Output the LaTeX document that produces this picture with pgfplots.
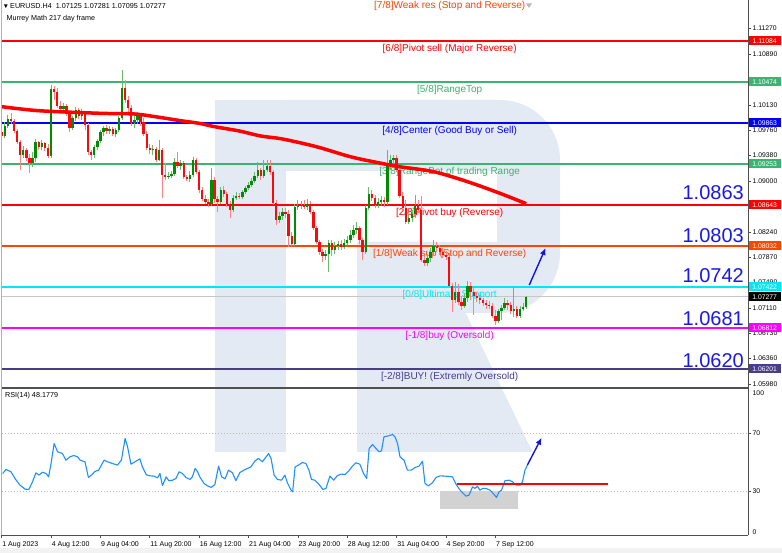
\documentclass[border=0pt]{standalone}
\usepackage{fontspec}
\setmainfont{Liberation Sans}
\usepackage{pgfplots}
\pgfplotsset{compat=1.18}
\usepackage{pgfplotstable}
\usetikzlibrary{arrows.meta}

\definecolor{wm}{RGB}{228,234,243}
\definecolor{axgray}{RGB}{80,80,80}
\definecolor{mmgreen}{RGB}{60,179,113}
\definecolor{mmorange}{RGB}{255,69,0}
\definecolor{mmcyan}{RGB}{0,232,245}
\definecolor{mmmagenta}{RGB}{255,0,255}
\definecolor{mmslate}{RGB}{72,61,139}
\definecolor{bigblue}{RGB}{25,25,235}
\definecolor{upbody}{RGB}{0,140,0}
\definecolor{upwick}{RGB}{110,185,110}
\definecolor{dnbody}{RGB}{250,10,10}
\definecolor{dnwick}{RGB}{255,130,130}
\definecolor{rsiblue}{RGB}{30,144,255}
\definecolor{arrowblue}{RGB}{20,20,225}

\newcommand\axfont{\fontsize{6.8}{8}\selectfont}
\newcommand\hdfont{\fontsize{7.2}{8}\selectfont}
\newcommand\lvfont{\fontsize{10}{12}\selectfont}
\newcommand\bigfont{\fontsize{20}{22}\selectfont}

% EURUSD H4 candles: bar index, open, high, low, close
\pgfplotstableread{
i o h l c
0 1.09729 1.09803 1.09610 1.09669
1 1.09669 1.09878 1.09640 1.09818
2 1.09818 1.09982 1.09789 1.09922
3 1.09922 1.10012 1.09848 1.09893
4 1.09893 1.09922 1.09714 1.09744
5 1.09744 1.09774 1.09550 1.09580
6 1.09580 1.09610 1.09163 1.09387
7 1.09387 1.09521 1.09342 1.09461
8 1.09461 1.09491 1.09297 1.09342
9 1.09342 1.09401 1.09119 1.09268
10 1.09268 1.09431 1.09208 1.09342
11 1.09342 1.09625 1.09282 1.09580
12 1.09580 1.09595 1.09461 1.09506
13 1.09506 1.09610 1.09461 1.09565
14 1.09565 1.09580 1.09446 1.09491
15 1.09491 1.09550 1.09342 1.09372
16 1.09372 1.10429 1.09342 1.10369
17 1.10369 1.10414 1.10205 1.10324
18 1.10324 1.10384 1.10086 1.10116
19 1.10116 1.10190 1.10027 1.10071
20 1.10071 1.10161 1.10012 1.10116
21 1.10116 1.10146 1.09967 1.09997
22 1.09997 1.10027 1.09729 1.09789
23 1.09789 1.09967 1.09759 1.09937
24 1.09937 1.10101 1.09893 1.10057
25 1.10057 1.10086 1.09922 1.09967
26 1.09967 1.10071 1.09908 1.10012
27 1.10012 1.10027 1.09759 1.09833
28 1.09833 1.09863 1.09387 1.09431
29 1.09431 1.09461 1.09312 1.09387
30 1.09387 1.09535 1.09342 1.09506
31 1.09506 1.09625 1.09461 1.09595
32 1.09595 1.09759 1.09565 1.09729
33 1.09729 1.09818 1.09669 1.09789
34 1.09789 1.09833 1.09699 1.09744
35 1.09744 1.09818 1.09699 1.09774
36 1.09774 1.09803 1.09669 1.09699
37 1.09699 1.09789 1.09655 1.09759
38 1.09759 1.09967 1.09729 1.09937
39 1.09937 1.10652 1.09908 1.10384
40 1.10384 1.10503 1.10161 1.10205
41 1.10205 1.10265 1.10027 1.10086
42 1.10086 1.10131 1.09818 1.09863
43 1.09863 1.09967 1.09789 1.09908
44 1.09908 1.10027 1.09848 1.09967
45 1.09967 1.10012 1.09818 1.09878
46 1.09878 1.09937 1.09669 1.09699
47 1.09699 1.09744 1.09461 1.09491
48 1.09491 1.09550 1.09401 1.09461
49 1.09461 1.09535 1.09387 1.09476
50 1.09476 1.09506 1.09282 1.09312
51 1.09312 1.09610 1.09297 1.09461
52 1.09461 1.09491 1.08746 1.09089
53 1.09089 1.09268 1.09014 1.09059
54 1.09059 1.09133 1.09029 1.09074
55 1.09074 1.09148 1.09044 1.09104
56 1.09104 1.09342 1.09074 1.09282
57 1.09282 1.09431 1.09193 1.09223
58 1.09223 1.09312 1.09163 1.09268
59 1.09268 1.09297 1.09029 1.09059
60 1.09059 1.09089 1.08999 1.09029
61 1.09029 1.09148 1.08985 1.09089
62 1.09089 1.09357 1.09059 1.09312
63 1.09312 1.09342 1.09104 1.09133
64 1.09133 1.09163 1.08821 1.08865
65 1.08865 1.08910 1.08702 1.08731
66 1.08731 1.08791 1.08657 1.08687
67 1.08687 1.08731 1.08612 1.08657
68 1.08657 1.09193 1.08627 1.09014
69 1.09014 1.09059 1.08672 1.08731
70 1.08731 1.08776 1.08538 1.08687
71 1.08687 1.08910 1.08657 1.08865
72 1.08865 1.08925 1.08761 1.08806
73 1.08806 1.08836 1.08612 1.08657
74 1.08657 1.08702 1.08449 1.08568
75 1.08568 1.08791 1.08538 1.08746
76 1.08746 1.08836 1.08717 1.08776
77 1.08776 1.08821 1.08731 1.08761
78 1.08761 1.08865 1.08731 1.08836
79 1.08836 1.08925 1.08806 1.08895
80 1.08895 1.08985 1.08865 1.08940
81 1.08940 1.09044 1.08910 1.08999
82 1.08999 1.09133 1.08970 1.09074
83 1.09074 1.09282 1.09044 1.09163
84 1.09163 1.09193 1.09014 1.09074
85 1.09074 1.09312 1.09044 1.09163
86 1.09163 1.09312 1.09133 1.09223
87 1.09223 1.09312 1.09089 1.09133
88 1.09133 1.09163 1.08642 1.08672
89 1.08672 1.08717 1.08344 1.08419
90 1.08419 1.08538 1.08374 1.08478
91 1.08478 1.08597 1.08419 1.08538
92 1.08538 1.08597 1.08449 1.08508
93 1.08508 1.08568 1.08017 1.08181
94 1.08181 1.08240 1.08017 1.08062
95 1.08062 1.08657 1.08032 1.08612
96 1.08612 1.08717 1.08568 1.08627
97 1.08627 1.08702 1.08583 1.08642
98 1.08642 1.08717 1.08583 1.08612
99 1.08612 1.08731 1.08568 1.08657
100 1.08657 1.08702 1.08508 1.08538
101 1.08538 1.08568 1.08270 1.08300
102 1.08300 1.08330 1.08062 1.08091
103 1.08091 1.08121 1.07898 1.07942
104 1.07942 1.07987 1.07794 1.07883
105 1.07883 1.07972 1.07823 1.07913
106 1.07913 1.08121 1.07645 1.08076
107 1.08076 1.08121 1.07883 1.07972
108 1.07972 1.08091 1.07913 1.08032
109 1.08032 1.08106 1.07972 1.08062
110 1.08062 1.08121 1.07972 1.08017
111 1.08017 1.08136 1.07987 1.08076
112 1.08076 1.08181 1.08032 1.08121
113 1.08121 1.08270 1.08076 1.08196
114 1.08196 1.08344 1.08151 1.08270
115 1.08270 1.08389 1.08210 1.08300
116 1.08300 1.08330 1.08062 1.08121
117 1.08121 1.08151 1.07823 1.07942
118 1.07942 1.08642 1.07913 1.08597
119 1.08597 1.08910 1.08568 1.08806
120 1.08806 1.08865 1.08702 1.08746
121 1.08746 1.08791 1.08597 1.08642
122 1.08642 1.08746 1.08597 1.08687
123 1.08687 1.08776 1.08627 1.08717
124 1.08717 1.08761 1.08612 1.08687
125 1.08687 1.09461 1.08642 1.09223
126 1.09223 1.09387 1.09163 1.09312
127 1.09312 1.09387 1.09238 1.09342
128 1.09342 1.09387 1.09133 1.09163
129 1.09163 1.09223 1.08746 1.08776
130 1.08776 1.08836 1.08553 1.08597
131 1.08597 1.08717 1.08359 1.08389
132 1.08389 1.08508 1.08359 1.08449
133 1.08449 1.08568 1.08389 1.08508
134 1.08508 1.08791 1.08449 1.08642
135 1.08642 1.08717 1.08523 1.08568
136 1.08568 1.08776 1.07794 1.07823
137 1.07823 1.07883 1.07734 1.07779
138 1.07779 1.07913 1.07734 1.07853
139 1.07853 1.08002 1.07794 1.07942
140 1.07942 1.08121 1.07898 1.08032
141 1.08032 1.08091 1.07942 1.08002
142 1.08002 1.08047 1.07898 1.07942
143 1.07942 1.08002 1.07853 1.07898
144 1.07898 1.07957 1.07823 1.07868
145 1.07868 1.07928 1.07406 1.07436
146 1.07436 1.07481 1.07049 1.07228
147 1.07228 1.07496 1.07183 1.07347
148 1.07347 1.07466 1.07153 1.07198
149 1.07198 1.07287 1.07079 1.07138
150 1.07138 1.07317 1.07109 1.07258
151 1.07258 1.07511 1.07198 1.07436
152 1.07436 1.07496 1.07228 1.07347
153 1.07347 1.07406 1.07004 1.07287
154 1.07287 1.07347 1.07198 1.07258
155 1.07258 1.07302 1.07168 1.07228
156 1.07228 1.07258 1.07138 1.07183
157 1.07183 1.07228 1.07094 1.07153
158 1.07153 1.07213 1.07094 1.07138
159 1.07138 1.07183 1.06960 1.06989
160 1.06989 1.07079 1.06856 1.06915
161 1.06915 1.07094 1.06886 1.07064
162 1.07064 1.07153 1.06930 1.07109
163 1.07109 1.07258 1.07079 1.07183
164 1.07183 1.07228 1.07079 1.07153
165 1.07153 1.07198 1.07019 1.07064
166 1.07064 1.07421 1.06975 1.07094
167 1.07094 1.07138 1.06960 1.06989
168 1.06989 1.07138 1.06960 1.07094
169 1.07094 1.07183 1.07064 1.07125
170 1.07125 1.07281 1.07095 1.07277
}\candles

\tikzset{pbox/.style={anchor=west, minimum width=32pt, minimum height=9pt,
  inner sep=0pt, text=white, font=\axfont}}
\pgfplotsset{candle/.style={draw=none, no markers, forget plot,
  error bars/.cd, y dir=plus, y explicit, error mark=none,
  error mark options={draw=none, fill=none}}}

\begin{document}
\begin{tikzpicture}[x=1pt,y=1pt]
\useasboundingbox (0,0) rectangle (782,553);
\fill[white] (0,0) rectangle (782,553);
\fill[gray!10] (0,0) rectangle (782,5);

% watermark logo
\fill[wm] (215,101) rectangle (286,453);
\fill[wm] (286,453) -- (500,453) arc[start angle=90,end angle=0,radius=60]
  -- (560,300) arc[start angle=0,end angle=-90,radius=60]
  -- (357,240) -- (357,311) -- (497,311) -- (497,382) -- (286,382) -- cycle;
\fill[wm] (357,101) -- (532.5,101) -- (431.6,311) -- (357,311) -- cycle;

% ---------------- price panel ----------------
\begin{axis}[
  at={(1.5pt,165pt)}, anchor=south west,
  scale only axis, width=746.5pt, height=388pt,
  xmin=-0.065, xmax=241.9, ymin=1.05918, ymax=1.11694,
  axis line style={draw=none},
  xtick=\empty,
  ytick pos=right, yticklabel pos=right,
  ytick={1.0598,1.0636,1.0673,1.0711,1.0749,1.0787,1.0824,1.0862,1.0900,1.0938,1.0976,1.1013,1.1051,1.1089,1.1127},
  yticklabels={1.05980,1.06360,1.06730,1.07110,1.07490,1.07870,1.08240,,1.09000,1.09380,1.09760,1.10130,,1.10890,1.11270},
  tick align=outside, major tick length=3pt,
  tick style={axgray, line width=0.6pt},
  yticklabel style={font=\axfont, anchor=west, inner sep=0pt, xshift=1.5pt},
]
% Murrey levels
\addplot[red, line width=1.2pt] coordinates {(-1,1.11084) (243,1.11084)};
\addplot[mmgreen, line width=1.2pt] coordinates {(-1,1.10474) (243,1.10474)};
\addplot[blue, line width=1.2pt] coordinates {(-1,1.09863) (243,1.09863)};
\addplot[mmgreen, line width=1.2pt] coordinates {(-1,1.09253) (243,1.09253)};
\addplot[red, line width=1.2pt] coordinates {(-1,1.08643) (243,1.08643)};
\addplot[mmorange, line width=1.2pt] coordinates {(-1,1.08032) (243,1.08032)};
\addplot[mmcyan, line width=1.2pt] coordinates {(-1,1.07422) (243,1.07422)};
\addplot[gray!45, line width=0.6pt] coordinates {(-1,1.07277) (243,1.07277)};
\addplot[mmmagenta, line width=1.2pt] coordinates {(-1,1.06812) (243,1.06812)};
\addplot[mmslate, line width=1.2pt] coordinates {(-1,1.06201) (243,1.06201)};

\tikzset{lv/.style={anchor=base, font=\lvfont, yshift=-10.5pt}}
\node[lv, text=mmorange, yshift=1.5pt] at (axis cs:145.2,1.11694) {[7/8]Weak res (Stop and Reverse)};
\node[lv, text=red] at (axis cs:145.2,1.11084) {[6/8]Pivot sell (Major Reverse)};
\node[lv, text=mmgreen] at (axis cs:145.2,1.10474) {[5/8]RangeTop};
\node[lv, text=blue] at (axis cs:145.2,1.09863) {[4/8]Center (Good Buy or Sell)};
\node[lv, text=mmgreen] at (axis cs:145.2,1.09253) {[3/8]RangeBot of trading Range};
\node[lv, text=red] at (axis cs:145.2,1.08643) {[2/8]Pivot buy (Reverse)};
\node[lv, text=mmorange] at (axis cs:145.2,1.08032) {[1/8]Weak sup (Stop and Reverse)};
\node[lv, text=mmcyan] at (axis cs:145.2,1.07422) {[0/8]Ultimate Support};
\node[lv, text=mmmagenta] at (axis cs:145.2,1.06812) {[-1/8]buy (Oversold)};
\node[lv, text=mmslate] at (axis cs:145.2,1.06201) {[-2/8]BUY! (Extremly Oversold)};

\tikzset{bg/.style={anchor=base east, font=\bigfont, text=bigblue, inner sep=0pt}}
\node[bg] at (axis cs:240.6,1.08717) {1.0863};
\node[bg] at (axis cs:240.6,1.08091) {1.0803};
\node[bg] at (axis cs:240.6,1.07481) {1.0742};
\node[bg] at (axis cs:240.6,1.06841) {1.0681};
\node[bg] at (axis cs:240.6,1.06230) {1.0620};

% candles: wicks
\addplot[candle, error bar style={draw=upwick, line width=0.9pt}]
  table[x=i, y=l, y error plus expr=\thisrow{h}-\thisrow{l},
  restrict expr to domain={\thisrow{c}-\thisrow{o}}{0:1}] {\candles};
\addplot[candle, error bar style={draw=dnwick, line width=0.9pt}]
  table[x=i, y=l, y error plus expr=\thisrow{h}-\thisrow{l},
  restrict expr to domain={\thisrow{c}-\thisrow{o}}{-1:0}] {\candles};
% candles: bodies
\addplot[candle, error bar style={draw=upbody, line width=2.4pt}]
  table[x=i, y=o, y error plus expr=\thisrow{c}-\thisrow{o},
  restrict expr to domain={\thisrow{c}-\thisrow{o}}{0:1}] {\candles};
\addplot[candle, error bar style={draw=dnbody, line width=2.4pt}]
  table[x=i, y=c, y error plus expr=\thisrow{o}-\thisrow{c},
  restrict expr to domain={\thisrow{c}-\thisrow{o}}{-1:0}] {\candles};

% moving average
\addplot[red, line width=3.5pt, line join=round, smooth] coordinates {
(0,1.10106) (12,1.10046) (32,1.10007) (43,1.09997) (51,1.09948) (58,1.09897)
(64,1.09858) (69,1.09808) (77,1.09744) (84,1.09669) (91,1.09625) (102,1.09510)
(113,1.09361) (122,1.09272) (129,1.09212) (140,1.09138) (151,1.08989)
(161.5,1.08816) (170,1.08662)};

\addplot[arrowblue, line width=1.4pt, -{Latex[length=7pt,width=6pt]}]
  coordinates {(171.0,1.07451) (176.3,1.08002)};

\coordinate (b6) at (axis cs:241.9,1.11084);
\coordinate (b5) at (axis cs:241.9,1.10474);
\coordinate (b4) at (axis cs:241.9,1.09863);
\coordinate (b3) at (axis cs:241.9,1.09253);
\coordinate (b2) at (axis cs:241.9,1.08643);
\coordinate (b1) at (axis cs:241.9,1.08032);
\coordinate (b0) at (axis cs:241.9,1.07422);
\coordinate (bc) at (axis cs:241.9,1.07277);
\coordinate (bm1) at (axis cs:241.9,1.06812);
\coordinate (bm2) at (axis cs:241.9,1.06201);
\end{axis}

% ---------------- RSI panel ----------------
\begin{axis}[
  at={(1.5pt,18pt)}, anchor=south west,
  scale only axis, width=746.5pt, height=145pt,
  xmin=-0.065, xmax=241.9, ymin=0, ymax=100,
  axis line style={draw=none},
  xtick pos=bottom, ytick pos=right, yticklabel pos=right,
  xtick={0,16,32,48,64,80,96,112,128,144,160},
  xticklabels={1 Aug 2023,4 Aug 12:00,9 Aug 04:00,11 Aug 20:00,16 Aug 12:00,21 Aug 04:00,23 Aug 20:00,28 Aug 12:00,31 Aug 04:00,4 Sep 20:00,7 Sep 12:00},
  xticklabel style={font=\fontsize{7}{8}\selectfont, anchor=north west, inner sep=0pt, xshift=0.5pt, yshift=-3.5pt},
  ytick={30,70}, yticklabels={30,70},
  tick align=outside, major tick length=3pt,
  tick style={axgray, line width=0.6pt},
  yticklabel style={font=\axfont, anchor=west, inner sep=0pt, xshift=1.5pt},
]
\addplot[gray!55, line width=0.5pt, dash pattern=on 1.5pt off 1.5pt] coordinates {(-1,70) (243,70)};
\addplot[gray!55, line width=0.5pt, dash pattern=on 1.5pt off 1.5pt] coordinates {(-1,30) (243,30)};
\fill[gray!35] (axis cs:142.2,17.9) rectangle (axis cs:167.4,30);
\addplot[rsiblue, line width=1.1pt, line join=round] coordinates {
(0.3,42.4)(1.4,45.2)(3.0,43.6)(4.3,39.0)(5.9,34.4)(7.6,31.6)(8.8,31.4)(10.0,36.7)
(11.1,42.9)(12.1,41.3)(13.2,43.3)(14.4,42.4)(15.2,40.1)(16.0,49.3)(17.0,63.1)
(18.1,57.4)(19.7,56.2)(20.8,51.6)(22.1,53.9)(23.4,54.8)(24.6,53.9)(25.4,51.6)
(27.0,50.5)(28.1,39.7)(29.1,41.3)(30.2,43.8)(31.4,44.7)(32.3,48.2)(33.2,51.6)
(34.3,50.5)(35.9,49.3)(37.5,48.2)(38.8,51.6)(40.0,66.6)(40.8,60.8)(41.9,48.8)
(43.2,50.5)(44.8,52.5)(45.6,47.0)(46.9,41.5)(48.1,40.8)(49.4,40.6)(50.5,39.4)
(51.3,42.4)(52.1,34.1)(53.3,40.1)(54.2,37.4)(55.4,37.8)(56.5,39.0)(57.5,43.6)
(58.6,42.4)(59.7,39.7)(61.0,38.3)(61.8,40.1)(62.7,45.9)(63.5,43.6)(64.3,39.7)
(65.6,35.5)(66.7,33.9)(67.9,32.8)(69.1,34.8)(70.3,47.5)(71.3,40.1)(72.4,38.7)
(73.5,44.7)(74.8,42.9)(75.9,37.4)(77.2,43.1)(78.5,44.7)(79.7,45.9)(80.8,47.0)
(82.1,51.1)(83.2,52.8)(84.5,50.5)(85.7,53.9)(86.5,56.2)(87.3,52.8)(88.3,41.3)
(89.4,38.3)(90.7,37.8)(91.8,41.3)(92.6,36.0)(93.8,30.9)(94.3,29.8)(95.1,47.0)
(96.2,48.2)(97.5,50.0)(98.6,49.3)(99.6,44.7)(100.4,38.3)(101.5,37.8)(102.9,34.8)
(104.1,31.4)(105.1,32.1)(106.4,40.6)(107.6,37.8)(108.8,41.0)(110.1,42.0)
(111.3,41.7)(112.4,44.0)(113.7,47.5)(114.8,49.8)(116.1,48.8)(117.3,42.4)
(118.3,39.0)(119.1,59.7)(120.2,62.4)(121.3,59.7)(122.3,57.4)(123.1,58.0)
(123.9,67.7)(125.1,68.2)(126.7,69.3)(127.5,67.7)(128.3,63.1)(129.1,53.9)
(130.4,51.6)(131.5,44.7)(132.8,44.7)(133.9,46.5)(135.3,47.5)(136.4,50.9)
(137.2,35.5)(138.3,33.9)(139.6,36.0)(140.8,39.7)(142.1,40.8)(143.7,40.6)
(146.1,40.1)(147.3,34.8)(148.6,30.9)(149.4,29.1)(150.5,26.8)(151.5,27.5)
(152.6,33.2)(153.4,32.1)(154.2,33.7)(155.0,30.9)(155.9,32.1)(157.0,32.1)
(158.3,30.9)(159.1,29.1)(160.4,25.9)(161.2,29.8)(162.0,30.9)(163.1,37.4)
(164.4,37.8)(165.6,36.7)(166.4,34.8)(167.2,34.4)(168.0,34.4)(168.8,36.7)
(169.6,44.7)(170.4,48.2)};
\addplot[arrowblue, line width=1.4pt, -{Latex[length=7pt,width=6pt]}]
  coordinates {(170.4,48.3) (175.0,67.1)};
\coordinate (rl1) at (axis cs:147.6,35.4);
\coordinate (rl2) at (axis cs:196.4,35.4);
\end{axis}

% RSI support line
\draw[red, line width=2pt] (rl1) -- (rl2);

% frame lines
\draw[gray!60, line width=0.8pt] (1.5,18) -- (1.5,553);
\draw[axgray, line width=0.9pt] (748,18) -- (748,553);
\draw[axgray, line width=1.2pt] (1.5,165) -- (748,165);
\draw[axgray, line width=0.9pt] (1.5,18) -- (748,18);

% RSI end labels
\node[anchor=west, font=\axfont, inner sep=0pt] at (752.5,159.7) {100};
\node[anchor=west, font=\axfont, inner sep=0pt] at (752.5,21.3) {0};

% price boxes on the right axis
\node[pbox, fill=red] at ([xshift=0.5pt]b6) {1.11084};
\node[pbox, fill=mmgreen] at ([xshift=0.5pt]b5) {1.10474};
\node[pbox, fill=blue] at ([xshift=0.5pt]b4) {1.09863};
\node[pbox, fill=mmgreen] at ([xshift=0.5pt]b3) {1.09253};
\node[pbox, fill=red] at ([xshift=0.5pt]b2) {1.08643};
\node[pbox, fill=mmorange] at ([xshift=0.5pt]b1) {1.08032};
\node[pbox, fill=mmcyan] at ([xshift=0.5pt]b0) {1.07422};
\node[pbox, fill=black] at ([xshift=0.5pt]bc) {1.07277};
\node[pbox, fill=mmmagenta] at ([xshift=0.5pt]bm1) {1.06812};
\node[pbox, fill=mmslate] at ([xshift=0.5pt]bm2) {1.06201};

% headers
\fill[black] (4,548.5) -- (7.6,548.5) -- (5.8,545) -- cycle;
\node[anchor=west, font=\hdfont, inner sep=0pt] at (10,546.5) {EURUSD.H4\ \ 1.07125 1.07281 1.07095 1.07277};
\node[anchor=west, font=\hdfont, inner sep=0pt] at (6.5,534.3) {Murrey Math 217 day frame};
\node[anchor=west, font=\hdfont, inner sep=0pt] at (5,157.5) {RSI(14) 48.1779};
\fill[gray!55] (526,549.5) -- (532,549.5) -- (529,545) -- cycle;
\end{tikzpicture}
\end{document}
